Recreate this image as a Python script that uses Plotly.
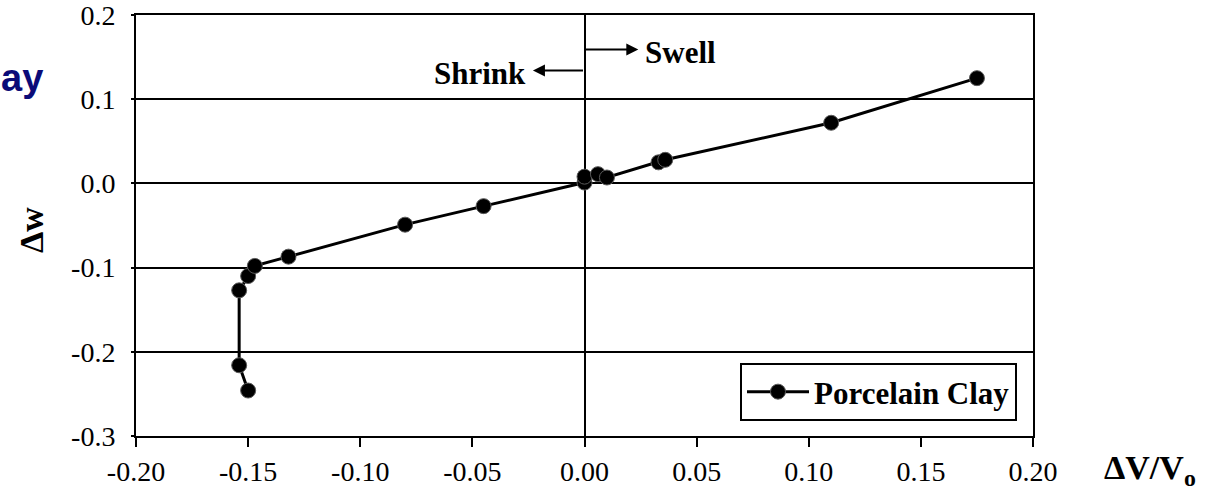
import plotly.graph_objects as go

# Porcelain clay: volumetric strain vs. change in water content
dv_v0 = [-0.150, -0.154, -0.154, -0.150, -0.147, -0.132, -0.080, -0.045,
         0.000, 0.000, 0.006, 0.010, 0.033, 0.036, 0.110, 0.175]
delta_w = [-0.246, -0.216, -0.127, -0.110, -0.098, -0.087, -0.049, -0.027,
           0.001, 0.008, 0.011, 0.007, 0.025, 0.028, 0.072, 0.125]

x_ticks = [-0.20, -0.15, -0.10, -0.05, 0.00, 0.05, 0.10, 0.15, 0.20]
x_tick_text = ["-0.20", "-0.15", "-0.10", "-0.05", "0.00", "0.05", "0.10", "0.15", "0.20"]
y_ticks = [-0.3, -0.2, -0.1, 0.0, 0.1, 0.2]
y_tick_text = ["-0.3", "-0.2", "-0.1", "0.0", "0.1", "0.2"]

SERIF = "Liberation Serif, Times New Roman, serif"

# plot-area geometry in pixels (used to place paper-referenced labels)
L, R, T, B = 136, 1033, 15, 436
W, H = 1209, 491


def px(xp, yp):
    return (xp - L) / (R - L), (B - yp) / (B - T)


fig = go.Figure()
fig.add_trace(go.Scatter(
    x=dv_v0, y=delta_w, mode="lines+markers", name="<b>Porcelain Clay</b>",
    line=dict(color="black", width=3),
    marker=dict(symbol="circle", size=15, color="black",
                line=dict(color="#5a5a5a", width=1)),
))

fig.update_layout(
    width=W, height=H,
    margin=dict(l=L, r=W - R, t=T, b=H - B, autoexpand=False),
    paper_bgcolor="white", plot_bgcolor="white",
    font=dict(family=SERIF, size=28, color="black"),
    showlegend=True,
    legend=dict(
        x=px(1017, 0)[0], y=px(0, 421)[1], xanchor="right", yanchor="bottom",
        bgcolor="white", bordercolor="black", borderwidth=2,
        font=dict(family=SERIF, size=31, color="black"),
        itemwidth=62, tracegroupgap=0,
    ),
    xaxis=dict(
        range=[-0.20, 0.20], tickvals=x_ticks, ticktext=x_tick_text,
        showgrid=False, zeroline=True, zerolinecolor="black", zerolinewidth=2,
        showline=True, linecolor="black", linewidth=2, mirror=True,
        ticks="outside", ticklen=9, tickwidth=2, tickcolor="black",
        tickfont=dict(family=SERIF, size=28, color="black"),
        ticklabeloverflow="allow", automargin=False,
    ),
    yaxis=dict(
        range=[-0.3, 0.2], tickvals=y_ticks, ticktext=y_tick_text,
        showgrid=True, gridcolor="black", gridwidth=2, zeroline=False,
        showline=True, linecolor="black", linewidth=2, mirror=True,
        ticks="outside", ticklen=3, tickwidth=2, tickcolor="black",
        tickfont=dict(family=SERIF, size=28, color="black"),
        ticklabelstandoff=10, ticklabeloverflow="allow", automargin=False,
    ),
)

# Shrink / swell direction arrows from the zero-volume-change line
fig.add_annotation(x=0.024, y=0.159, ax=0.0, ay=0.159, xref="x", yref="y",
                   axref="x", ayref="y", text="", showarrow=True,
                   arrowhead=2, arrowsize=1.2, arrowwidth=2, arrowcolor="black")
fig.add_annotation(x=-0.023, y=0.134, ax=0.0, ay=0.134, xref="x", yref="y",
                   axref="x", ayref="y", text="", showarrow=True,
                   arrowhead=2, arrowsize=1.2, arrowwidth=2, arrowcolor="black")
fig.add_annotation(x=0.026, y=0.156, xref="x", yref="y", text="<b>Swell</b>",
                   showarrow=False, xanchor="left", yanchor="middle",
                   font=dict(family=SERIF, size=31, color="black"))
fig.add_annotation(x=-0.025, y=0.131, xref="x", yref="y", text="<b>Shrink</b>",
                   showarrow=False, xanchor="right", yanchor="middle",
                   font=dict(family=SERIF, size=31, color="black"))

# Axis titles
ax_x, ax_y = px(1150, 470)
fig.add_annotation(x=ax_x, y=ax_y, xref="paper", yref="paper",
                   text="<b>ΔV/V<sub>o</sub></b>",
                   showarrow=False, xanchor="center", yanchor="middle",
                   font=dict(family=SERIF, size=34, color="black"))
ay_x, ay_y = px(32, 230)
fig.add_annotation(x=ay_x, y=ay_y, xref="paper", yref="paper",
                   text="<b>Δw</b>", textangle=-90,
                   showarrow=False, xanchor="center", yanchor="middle",
                   font=dict(family=SERIF, size=34, color="black"))

# Fragment of the slide title at the left edge
t_x, t_y = px(22, 78)
fig.add_annotation(x=t_x, y=t_y, xref="paper", yref="paper", text="<b>ay</b>",
                   showarrow=False, xanchor="center", yanchor="middle",
                   font=dict(family="Liberation Sans, Arial, sans-serif", size=38,
                             color="#0b0b78"))

fig.write_html("out.html")
